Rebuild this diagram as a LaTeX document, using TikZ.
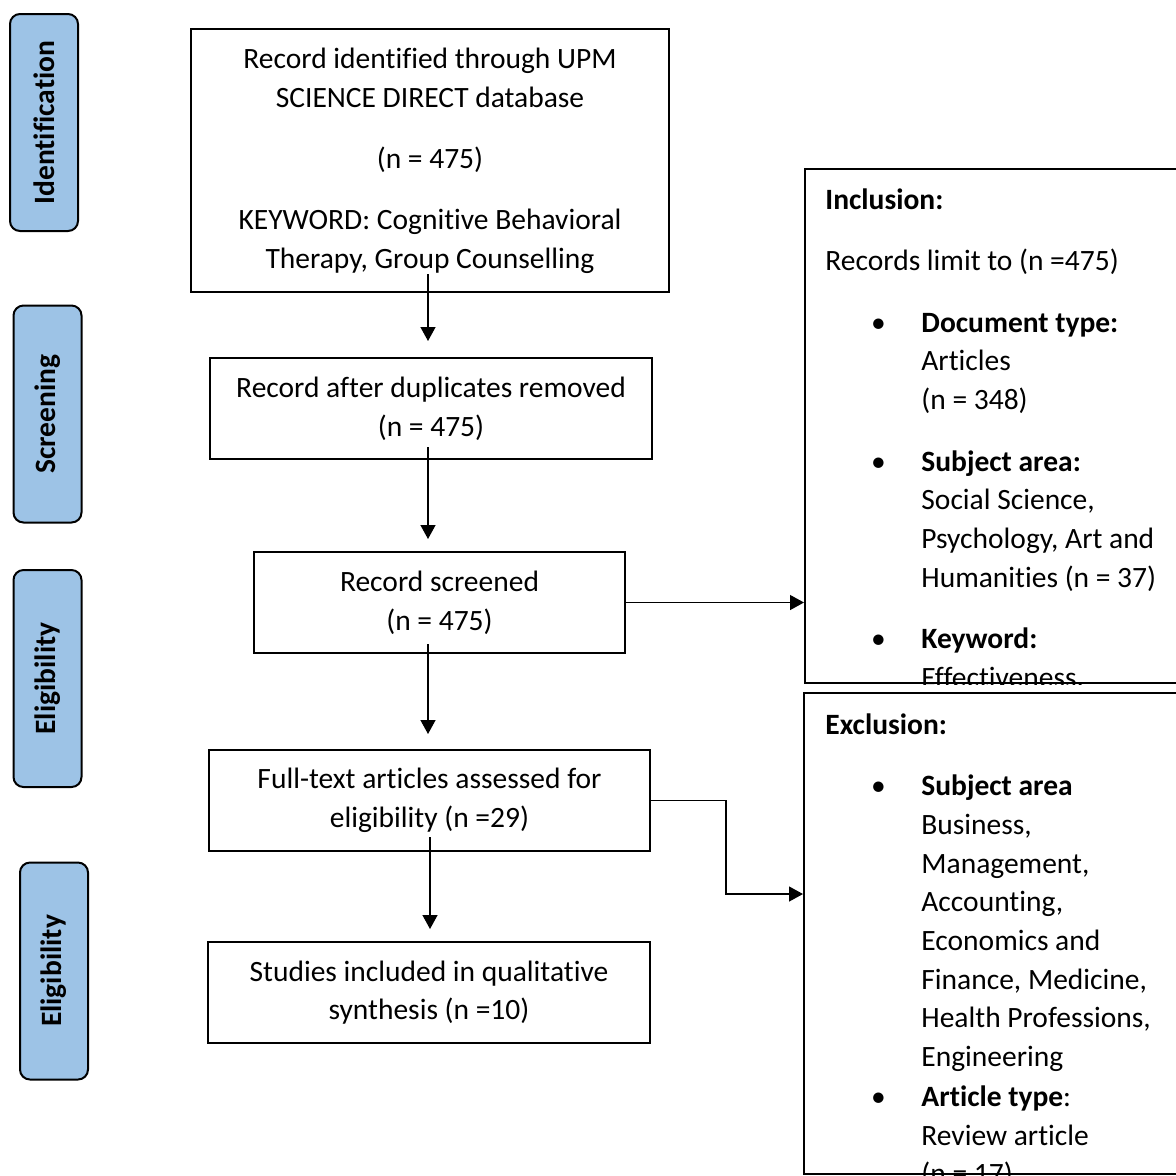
\documentclass[tikz,border=0pt]{standalone}
\usepackage{fontspec}
\setmainfont{Carlito}[Ligatures=CommonOff]
\usetikzlibrary{arrows.meta}
\definecolor{stageblue}{RGB}{157,195,230}
\newcommand{\itembul}{\hspace*{21.5pt}\makebox[10pt]{\textbullet}\hspace*{16.5pt}}
\newcommand{\itemind}{\hspace*{48pt}}

\begin{document}
\begin{tikzpicture}[x=0.5pt, y=-0.5pt, every node/.style={font=\fontsize{14.75pt}{19.35pt}\selectfont},
  >={Triangle[length=7pt,width=7.5pt]},
  box/.style={draw, line width=1pt, align=center, inner sep=0pt},
  stage/.style={draw, line width=1pt, rounded corners=5pt, fill=stageblue, rotate=90, minimum width=108.5pt, minimum height=34pt, inner sep=0pt, font=\bfseries\fontsize{14.75pt}{17pt}\selectfont},
  listtext/.style={anchor=north west, inner sep=0pt, align=left},
  arr/.style={->, line width=0.65pt}]
	\useasboundingbox (0,0) rectangle (1176,1175);
	\node[stage] (ident) at (44,122.5) {Identification};
	\node[stage] (screen) at (47.5,414) {Screening};
	\node[stage] (elig) at (47.5,678.5) {Eligibility};
	\node[stage] (incl5) at (54,971) {Eligibility};
	\node[box, minimum width=239pt, minimum height=131.5pt] (box1) at (430,160.5) {Record identified through UPM\\ SCIENCE DIRECT database\\[11.2pt] (n = 475)\\[11.2pt] KEYWORD: Cognitive Behavioral\\ Therapy, Group Counselling};
	\node[box, minimum width=221pt, minimum height=50.5pt] (box2) at (431,408.5) {Record after duplicates removed\\ (n = 475)};
	\node[box, minimum width=185.5pt, minimum height=50.5pt] (box3) at (439.5,602.5) {Record screened\\ (n = 475)};
	\node[box, minimum width=220.5pt, minimum height=50.5pt] (box4) at (429.5,800.5) {Full-text articles assessed for\\ eligibility (n =29)};
	\node[box, minimum width=221pt, minimum height=50.5pt] (box5) at (429,992.5) {Studies included in qualitative\\ synthesis (n =10)};
	\node[box, minimum width=197.5pt, minimum height=257pt] (incl) at (1002.5,426) {};
	\node[box, minimum width=198pt, minimum height=240.5pt] (excl) at (1002,933.5) {};
	\begin{scope}
	\clip (incl.north west) rectangle (incl.south east);
	\node[listtext] (incltext) at (825,188) {\textbf{Inclusion:}\\[11.4pt]
	Records limit to (n =475)\\[11.4pt]
	\itembul\textbf{Document type:}\\
	\itemind Articles\\
	\itemind (n = 348)\\[11.4pt]
	\itembul\textbf{Subject area:}\\
	\itemind Social Science,\\
	\itemind Psychology, Art and\\
	\itemind Humanities (n = 37)\\[11.4pt]
	\itembul\textbf{Keyword:}\\
	\itemind Effectiveness,};
	\end{scope}
	\begin{scope}
	\clip (excl.north west) rectangle (excl.south east);
	\node[listtext] (excltext) at (825,713) {\textbf{Exclusion:}\\[11.4pt]
	\itembul\textbf{Subject area}\\
	\itemind Business,\\
	\itemind Management,\\
	\itemind Accounting,\\
	\itemind Economics and\\
	\itemind Finance, Medicine,\\
	\itemind Health Professions,\\
	\itemind Engineering\\[0.6pt]
	\itembul\textbf{Article type}:\\
	\itemind Review article\\
	\itemind (n = 17)};
	\end{scope}
	\draw[arr] ([shift={(-2,-19)}]box1.south) -- ([shift={(-3,-16)}]box2.north);
	\draw[arr] ([shift={(-3,-13)}]box2.south) -- ([shift={(-11.5,-12)}]box3.north);
	\draw[arr] ([shift={(-11.5,-10)}]box3.south) -- ([shift={(-1.5,-15)}]box4.north);
	\draw[arr] ([shift={(0.5,-15)}]box4.south) -- ([shift={(1,-12)}]box5.north);
	\draw[arr] (box3.east) -- (box3.east -| incl.west);
	\draw[arr] (box4.east) -- ++(75,0) |- ([shift={(0,-39.5)}]excl.west);
\end{tikzpicture}
\end{document}
